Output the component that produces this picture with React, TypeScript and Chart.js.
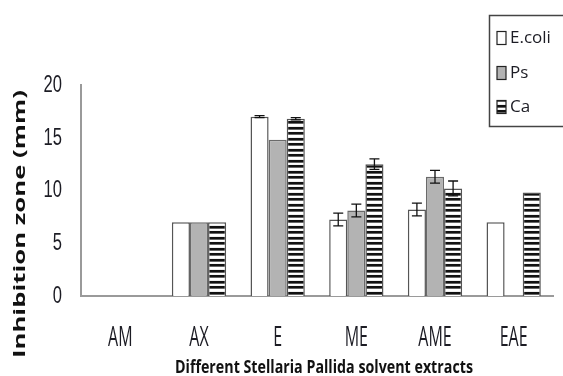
import React, { useEffect, useRef } from "react";
import { Chart, registerables } from "chart.js";

Chart.register(...registerables);

const categories = ["AM", "AX", "E", "ME", "AME", "EAE"];
const seriesNames = ["E.coli", "Ps", "Ca"];
const ecoliValues = [0, 7, 17, 7.25, 8.2, 7];
const psValues = [0, 7, 14.8, 8.1, 11.3, 0];
const caValues = [0, 7, 16.8, 12.5, 10.2, 9.8];
const ecoliErrors = [0, 0, 0.1, 0.6, 0.6, 0];
const psErrors = [0, 0, 0, 0.6, 0.6, 0];
const caErrors = [0, 0, 0.1, 0.5, 0.7, 0];
const yTickValues = [0, 5, 10, 15, 20];
const yTitle = "Inhibition zone (mm)";
const xTitle = "Different Stellaria Pallida solvent extracts";

function makeStripePattern(ctx: CanvasRenderingContext2D): CanvasPattern | string {
  const c = document.createElement("canvas");
  c.width = 4;
  c.height = 11;
  const p = c.getContext("2d");
  if (!p) return "#888";
  const rows = ["#111", "#111", "#666", "#fff", "#fff", "#eee", "#111", "#111", "#666", "#fff", "#f4f4f4"];
  rows.forEach((col, i) => {
    p.fillStyle = col;
    p.fillRect(0, i, 4, 1);
  });
  return ctx.createPattern(c, "repeat") || "#888";
}

function drawText(
  ctx: CanvasRenderingContext2D,
  text: string,
  x: number,
  y: number,
  font: string,
  sx: number,
  sy: number,
  align: CanvasTextAlign,
  baseline: CanvasTextBaseline,
  color: string,
  rotate = false
) {
  ctx.save();
  ctx.translate(x, y);
  if (rotate) ctx.rotate(-Math.PI / 2);
  ctx.scale(sx, sy);
  ctx.font = font;
  ctx.textAlign = align;
  ctx.textBaseline = baseline;
  ctx.fillStyle = color;
  ctx.fillText(text, 0, 0);
  ctx.restore();
}

function fitScale(ctx: CanvasRenderingContext2D, text: string, font: string, width: number) {
  ctx.save();
  ctx.font = font;
  const w = ctx.measureText(text).width;
  ctx.restore();
  return w > 0 ? width / w : 1;
}

const errorBarPlugin = {
  id: "errorBars",
  afterDatasetsDraw(chart: any) {
    const ctx = chart.ctx as CanvasRenderingContext2D;
    const yScale = chart.scales.y;
    const errs = [ecoliErrors, psErrors, caErrors];
    ctx.save();
    ctx.strokeStyle = "#111";
    ctx.lineWidth = 1.3;
    errs.forEach((arr, d) => {
      const meta = chart.getDatasetMeta(d);
      arr.forEach((e, i) => {
        if (!e) return;
        const v = chart.data.datasets[d].data[i] as number;
        const bx = meta.data[i].x;
        const yTop = yScale.getPixelForValue(v + e);
        const yBot = yScale.getPixelForValue(v - e);
        ctx.beginPath();
        ctx.moveTo(bx, yTop);
        ctx.lineTo(bx, yBot);
        ctx.moveTo(bx - 5, yTop);
        ctx.lineTo(bx + 5, yTop);
        ctx.moveTo(bx - 5, yBot);
        ctx.lineTo(bx + 5, yBot);
        ctx.stroke();
      });
    });
    ctx.restore();
  },
};

const textPlugin = {
  id: "stretchedText",
  afterDraw(chart: any) {
    const ctx = chart.ctx as CanvasRenderingContext2D;
    const area = chart.chartArea;
    const xScale = chart.scales.x;
    const yScale = chart.scales.y;
    const tickColor = "#1c1c24";

    // y tick labels
    yScale.ticks.forEach((t: any) => {
      drawText(ctx, String(t.value), area.left - 19, yScale.getPixelForValue(t.value), "18px 'Liberation Sans'", 0.92, 1.38, "right", "middle", tickColor);
    });

    // x category labels
    categories.forEach((c, i) => {
      drawText(ctx, c, xScale.getPixelForValue(i), area.bottom + 42, "16px 'Open Sans'", 1.0, 1.7, "center", "middle", tickColor);
    });

    // x title
    const xFont = "bold 13px 'Open Sans'";
    const xs = fitScale(ctx, xTitle, xFont, 298);
    drawText(ctx, xTitle, (area.left + area.right) / 2 + 7, area.bottom + 77, xFont, xs, 1.3, "center", "alphabetic", "#111");

    // y title (rotated)
    const yFont = "bold 16px 'Open Sans'";
    const ys = fitScale(ctx, yTitle, yFont, 268);
    drawText(ctx, yTitle, 24.5, area.bottom - 72, yFont, ys, 1.0, "center", "alphabetic", "#111", true);

    // legend
    const lx = 489.5;
    const ly = 15.5;
    ctx.save();
    ctx.fillStyle = "#fff";
    ctx.fillRect(lx, ly, 90, 111);
    ctx.strokeStyle = "#444";
    ctx.lineWidth = 1.5;
    ctx.strokeRect(lx, ly, 90, 111);
    ctx.restore();
    const rowY = [38, 73, 107];
    chart.data.datasets.forEach((ds: any, d: number) => {
      const cy = rowY[d];
      ctx.save();
      ctx.fillStyle = ds.backgroundColor;
      ctx.fillRect(497, cy - 6.5, 9, 13);
      ctx.strokeStyle = "#222";
      ctx.lineWidth = 1.2;
      ctx.strokeRect(497, cy - 6.5, 9, 13);
      ctx.restore();
      drawText(ctx, seriesNames[d], 510, cy, "17px 'Open Sans'", 1.0, 1.0, "left", "middle", "#1c1c24");
    });
  },
};

export default function App() {
  const ref = useRef<HTMLCanvasElement | null>(null);

  useEffect(() => {
    document.body.style.margin = "0";
    const canvas = ref.current;
    if (!canvas) return;
    const ctx = canvas.getContext("2d");
    if (!ctx) return;
    const stripes = makeStripePattern(ctx);

    const chart = new Chart(ctx, {
      type: "bar",
      data: {
        labels: categories,
        datasets: [
          {
            label: seriesNames[0],
            data: ecoliValues,
            backgroundColor: "#ffffff",
            borderColor: "#555555",
            borderWidth: 1.5,
          },
          {
            label: seriesNames[1],
            data: psValues,
            backgroundColor: "#b3b3b3",
            borderColor: "#6a6a6a",
            borderWidth: 1.5,
          },
          {
            label: seriesNames[2],
            data: caValues,
            backgroundColor: stripes as any,
            borderColor: "#555555",
            borderWidth: 1.5,
          },
        ],
      },
      options: {
        responsive: false,
        animation: false,
        devicePixelRatio: 1,
        layout: { padding: { left: 81, right: 10, top: 85, bottom: 80 } },
        datasets: {
          bar: { categoryPercentage: 0.69, barPercentage: 1.0 },
        },
        plugins: {
          legend: { display: false },
          tooltip: { enabled: false },
        },
        scales: {
          x: {
            grid: { display: false, drawTicks: false },
            ticks: { display: false },
            border: { display: true, color: "#9a9a9a", width: 2 },
          },
          y: {
            min: 0,
            max: 20,
            afterBuildTicks: (scale: any) => {
              scale.ticks = yTickValues.map((v) => ({ value: v }));
            },
            grid: { display: false, drawTicks: false },
            ticks: { display: false },
            border: { display: true, color: "#9a9a9a", width: 2 },
          },
        },
      },
      plugins: [errorBarPlugin, textPlugin],
    });

    return () => chart.destroy();
  }, []);

  return (
    <div style={{ width: 563, height: 376, background: "#fff" }}>
      <canvas ref={ref} width={563} height={376} style={{ display: "block" }} />
    </div>
  );
}
